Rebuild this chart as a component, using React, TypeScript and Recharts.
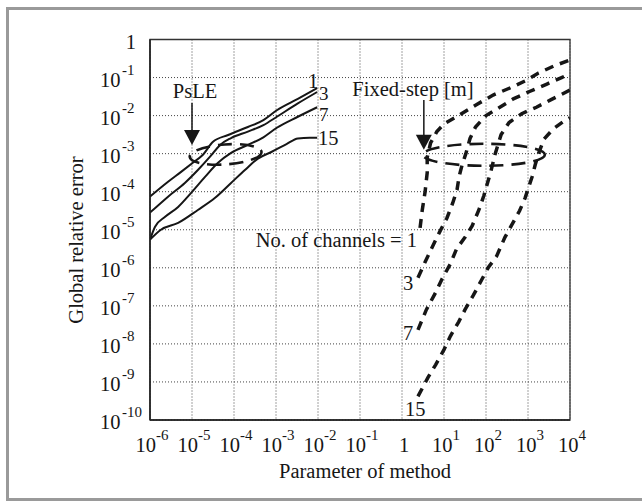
import {
  LineChart,
  Line,
  XAxis,
  YAxis,
  CartesianGrid,
  ReferenceArea,
  ReferenceDot,
  ReferenceLine,
  Customized,
} from 'recharts';

const FONT = '"Liberation Serif", "Times New Roman", Times, serif';
const INK = '#161616';

const psle1 = [[-6, -4.13], [-5.57, -3.74], [-5.26, -3.48], [-4.98, -3.24], [-4.74, -3.03], [-4.5, -2.69], [-4.14, -2.51], [-3.67, -2.3], [-3.3, -2.12], [-2.98, -1.86], [-2.48, -1.56], [-2.02, -1.28]];
const psle3 = [[-6, -4.55], [-5.57, -4.13], [-5.17, -3.77], [-4.86, -3.43], [-4.57, -3.08], [-4.33, -2.77], [-4.07, -2.59], [-3.67, -2.42], [-3.3, -2.25], [-2.98, -2.03], [-2.48, -1.68], [-2.02, -1.38]];
const psle7 = [[-6, -5.26], [-5.88, -4.92], [-5.64, -4.66], [-5.33, -4.4], [-5.02, -4.03], [-4.69, -3.61], [-4.38, -3.24], [-4.07, -2.98], [-3.67, -2.77], [-3.3, -2.57], [-2.98, -2.32], [-2.48, -2.03], [-2.02, -1.78]];
const psle15 = [[-6, -5.26], [-5.74, -5.0], [-5.33, -4.82], [-4.86, -4.48], [-4.45, -4.16], [-4.07, -3.77], [-3.74, -3.43], [-3.43, -3.13], [-3.1, -2.95], [-2.75, -2.75], [-2.48, -2.6], [-2.2, -2.58], [-2.02, -2.58]];

const fixed1 = [[0.43, -4.95], [0.48, -4.5], [0.55, -4.0], [0.6, -3.5], [0.6, -3.1], [0.68, -2.72], [0.83, -2.42], [1.0, -2.22], [1.3, -2.03], [1.76, -1.72], [2.17, -1.46], [2.6, -1.26], [2.93, -1.09], [3.25, -0.88], [3.65, -0.68], [4.0, -0.54]];
const fixed3 = [[0.38, -6.26], [0.55, -5.85], [0.7, -5.5], [0.9, -5.05], [1.07, -4.69], [1.21, -4.29], [1.31, -3.95], [1.36, -3.6], [1.43, -3.3], [1.52, -3.0], [1.62, -2.6], [1.75, -2.3], [2.0, -2.0], [2.3, -1.8], [2.65, -1.56], [3.05, -1.36], [3.45, -1.17], [3.8, -1.0], [4.0, -0.9]];
const fixed7 = [[0.38, -7.63], [0.58, -7.1], [0.8, -6.65], [0.95, -6.3], [1.15, -5.9], [1.3, -5.5], [1.5, -5.2], [1.67, -4.9], [1.83, -4.48], [1.95, -4.1], [2.12, -3.45], [2.22, -3.0], [2.36, -2.5], [2.55, -2.18], [2.85, -1.95], [3.2, -1.78], [3.55, -1.58], [4.0, -1.33]];
const fixed15 = [[0.38, -9.38], [0.62, -8.88], [0.8, -8.55], [1.0, -8.15], [1.15, -7.8], [1.35, -7.42], [1.5, -7.1], [1.7, -6.72], [2.05, -6.0], [2.25, -5.7], [2.45, -5.2], [2.6, -4.9], [2.8, -4.5], [2.93, -4.17], [3.1, -3.6], [3.17, -3.3], [3.25, -3.0], [3.38, -2.62], [3.6, -2.35], [3.85, -2.15], [4.0, -2.06]];

const xTickExps = [-6, -5, -4, -3, -2, -1, 0, 1, 2, 3, 4];
const yTickExps = [0, -1, -2, -3, -4, -5, -6, -7, -8, -9, -10];

// dashed rings and arrows (centre / ends in exponents)
const psleRing = { x: -4.2, y: -3.02 };
const fixedRing = { x: 1.95, y: -3.03 };
const psleArrow = { x: -5, from: -1.67, to: -2.77 };
const fixedArrow = { x: 0.52, from: -1.59, to: -2.9 };

const toPoints = (pts: number[][]) => pts.map(([lx, ly]) => ({ x: 10 ** lx, y: 10 ** ly }));

const XTick = ({ x, y, payload }: any) => {
  const e = Math.round(Math.log10(payload.value));
  return (
    <text x={x + 2} y={y + 24} textAnchor="middle" fontFamily={FONT} fontSize={20.5} fill={INK}>
      {e === 0 ? (
        '1'
      ) : (
        <>
          <tspan>10</tspan>
          <tspan dy={-12} fontSize={15}>{e}</tspan>
        </>
      )}
    </text>
  );
};

const YTick = ({ x, y, payload }: any) => {
  const e = Math.round(Math.log10(payload.value));
  if (e === 0) {
    return (
      <text x={x - 6} y={y + 9.5} textAnchor="end" fontFamily={FONT} fontSize={20.5} fill={INK}>
        1
      </text>
    );
  }
  return (
    <text x={x - 42} y={y + 9} fontFamily={FONT} fontSize={20.5} fill={INK}>
      <tspan>10</tspan>
      <tspan dx={1.5} dy={-12} fontSize={15}>{e}</tspan>
    </text>
  );
};

const arrowShape = (p: any) => (
  <g>
    <line x1={p.x1} y1={p.y1} x2={p.x2} y2={p.y2 - 12} stroke={INK} strokeWidth={1.5} />
    <polygon points={`${p.x2 - 8},${p.y2 - 15} ${p.x2 + 8},${p.y2 - 15} ${p.x2},${p.y2}`} fill={INK} />
  </g>
);

const ringShape = (rx: number, ry: number, tilt: number) => (p: any) => (
  <ellipse
    cx={p.cx}
    cy={p.cy}
    rx={rx}
    ry={ry}
    transform={`rotate(${tilt} ${p.cx} ${p.cy})`}
    fill="none"
    stroke={INK}
    strokeWidth={2.6}
    strokeDasharray="14 8"
  />
);

const Annotations = () => (
  <g fontFamily={FONT} fontSize={20.5} fill={INK}>
    <text x={195} y={98} textAnchor="middle">PsLE</text>
    <text x={308} y={88}>1</text>
    <text x={319} y={100} fontSize={19}>3</text>
    <text x={319} y={121} fontSize={19}>7</text>
    <text x={318} y={145}>15</text>
    <text x={413} y={96} textAnchor="middle">Fixed-step [m]</text>
    <text x={417} y={247} textAnchor="end">No. of channels = 1</text>
    <text x={403} y={290}>3</text>
    <text x={403} y={340}>7</text>
    <text x={405} y={416}>15</text>
    <text x={365} y={478} textAnchor="middle">Parameter of method</text>
    <text x={83} y={240} textAnchor="middle" transform="rotate(-90 83 240)">Global relative error</text>
  </g>
);

const solid = [psle1, psle3, psle7, psle15];
const dashed = [fixed1, fixed3, fixed7, fixed15];

export default function App() {
  return (
    <div style={{ position: 'absolute', left: 0, top: 0, width: 642, height: 502, overflow: 'hidden', background: '#fff' }}>
      <div
        style={{
          position: 'absolute',
          left: 6,
          top: 7,
          width: 700,
          height: 494,
          boxSizing: 'border-box',
          border: '3.5px solid #9a9a9a',
        }}
      />
      <div style={{ position: 'absolute', left: 0, top: 0 }}>
        <LineChart width={642} height={502} margin={{ top: 39.5, right: 72, left: 90, bottom: 40 }}>
          <CartesianGrid stroke="#444" strokeDasharray="1 2" strokeWidth={1} />
          <XAxis
            type="number"
            dataKey="x"
            scale="log"
            domain={[1e-6, 1e4]}
            allowDataOverflow
            ticks={xTickExps.map((e) => 10 ** e)}
            tick={<XTick />}
            tickLine={false}
            height={42}
            axisLine={{ stroke: '#222', strokeWidth: 1.6 }}
            interval={0}
          />
          <YAxis
            type="number"
            dataKey="y"
            scale="log"
            domain={[1e-10, 1]}
            allowDataOverflow
            ticks={yTickExps.map((e) => 10 ** e)}
            tick={<YTick />}
            tickLine={false}
            width={60}
            axisLine={{ stroke: '#222', strokeWidth: 1.6 }}
            interval={0}
          />
          <ReferenceArea x1={1e-6} x2={1e4} y1={1e-10} y2={1} fill="none" stroke="#333" strokeWidth={1.3} />
          {solid.map((s, i) => (
            <Line
              key={`s${i}`}
              data={toPoints(s)}
              dataKey="y"
              type="monotone"
              stroke={INK}
              strokeWidth={2}
              dot={false}
              isAnimationActive={false}
            />
          ))}
          {dashed.map((s, i) => (
            <Line
              key={`d${i}`}
              data={toPoints(s)}
              dataKey="y"
              type="linear"
              stroke={INK}
              strokeWidth={3.5}
              strokeDasharray="9 7"
              dot={false}
              isAnimationActive={false}
            />
          ))}
          <ReferenceDot x={10 ** psleRing.x} y={10 ** psleRing.y} shape={ringShape(36, 10, -4)} />
          <ReferenceDot x={10 ** fixedRing.x} y={10 ** fixedRing.y} shape={ringShape(61, 11, 0)} />
          <ReferenceLine
            segment={[
              { x: 10 ** psleArrow.x, y: 10 ** psleArrow.from },
              { x: 10 ** psleArrow.x, y: 10 ** psleArrow.to },
            ]}
            shape={arrowShape}
          />
          <ReferenceLine
            segment={[
              { x: 10 ** fixedArrow.x, y: 10 ** fixedArrow.from },
              { x: 10 ** fixedArrow.x, y: 10 ** fixedArrow.to },
            ]}
            shape={arrowShape}
          />
          <Customized component={<Annotations />} />
        </LineChart>
      </div>
    </div>
  );
}
